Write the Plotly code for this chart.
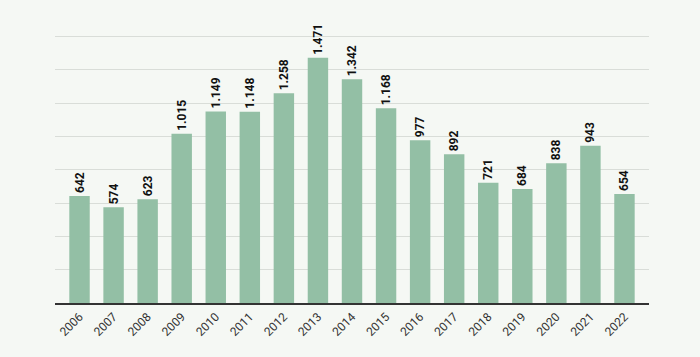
import plotly.graph_objects as go

years = [str(y) for y in range(2006, 2023)]
values = [642, 574, 623, 1015, 1149, 1148, 1258, 1471, 1342, 1168, 977, 892, 721, 684, 838, 943, 654]

bg = "#f5f8f4"
fig = go.Figure(go.Bar(
    x=years, y=values,
    marker=dict(color="#93bfa5", line=dict(width=0)),
    texttemplate="%{y:,.0f}",
    textposition="outside",
    textangle=-90,
    constraintext="none",
    textfont=dict(family="Roboto", size=12, color="#111111", weight="bold"),
    cliponaxis=False,
))
fig.update_layout(
    width=700, height=357,
    margin=dict(l=55, r=51, t=3, b=54, autoexpand=False),
    paper_bgcolor=bg, plot_bgcolor=bg,
    separators=",.",
    bargap=0.4,
    showlegend=False,
    font=dict(family="Roboto", color="#333333"),
)
fig.update_xaxes(
    type="category", range=[-0.72, 16.72],
    tickangle=-45, tickfont=dict(size=12, color="#333333"),
    showline=True, linecolor="#333333", linewidth=2,
    ticks="", showgrid=False, automargin=False,
)
fig.update_yaxes(
    range=[0, 1800], dtick=200, showticklabels=False,
    showgrid=True, gridcolor="#d9ddd8", gridwidth=1,
    zeroline=False, showline=False, automargin=False,
)
fig.write_html(
    "out.html",
    config={"displayModeBar": False},
    post_script="document.body.style.margin='0';document.body.style.background='%s';" % bg,
)
